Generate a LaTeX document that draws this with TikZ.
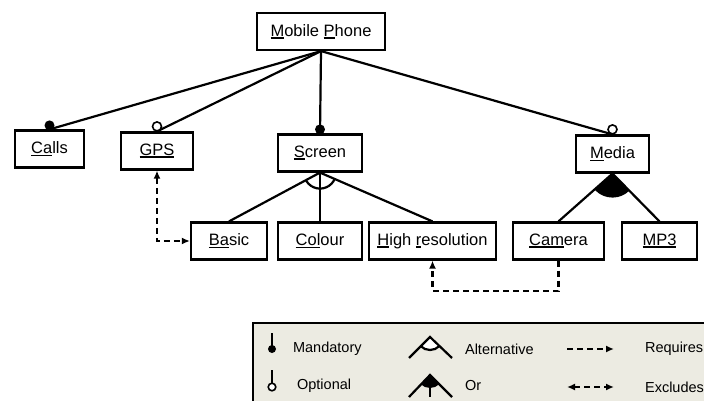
\documentclass[tikz,border=0pt]{standalone}
\usepackage{fontspec}
\setmainfont{Liberation Sans}
\usetikzlibrary{arrows.meta}
\definecolor{fline}{HTML}{000000}
\definecolor{legfill}{HTML}{ECEBE2}
\newcommand{\fkey}[1]{\setbox0=\hbox{#1}\rlap{\rule[-2.8pt]{\wd0}{1.7pt}}\box0}

\begin{document}
\begin{tikzpicture}[x=1pt,y=-1pt,
  line width=2.2pt,
  feat/.style={draw=fline,fill=white,minimum height=37pt,inner sep=3pt,
               font=\fontsize{16.5}{19}\selectfont},
  legtxt/.style={anchor=west,inner sep=0pt,font=\fontsize{14.5}{17}\selectfont},
  rel/.style={dash pattern=on 6pt off 4pt,-{Latex[length=8pt,width=7pt]}},
  relx/.style={dash pattern=on 6pt off 4pt,{Latex[length=8pt,width=7pt]}-{Latex[length=8pt,width=7pt]}}]
  \useasboundingbox (0,0) rectangle (704,401);
  \clip (0,0) rectangle (704,401);
  % features
  \node[feat,minimum width=128pt] (phone) at (321,31.5) {\fkey{M}obile \fkey{P}hone};
  \node[feat,minimum width=69pt] (calls) at (49.5,149) {\fkey{Ca}lls};
  \node[feat,minimum width=72pt] (gps) at (157,151) {\fkey{GPS}};
  \node[feat,minimum width=84pt] (screen) at (320,153) {\fkey{S}creen};
  \node[feat,minimum width=73pt] (media) at (612.5,154) {\fkey{M}edia};
  \node[feat,minimum width=76pt] (basic) at (229,241) {\fkey{Ba}sic};
  \node[feat,minimum width=84pt] (colour) at (320,241) {\fkey{Col}our};
  \node[feat,minimum width=127pt] (hires) at (432.5,241) {\fkey{H}igh \fkey{r}esolution};
  \node[feat,minimum width=91pt] (camera) at (558.5,241) {\fkey{Cam}era};
  \node[feat,minimum width=75pt] (mp3) at (659.5,241) {\fkey{MP3}};
  % tree edges
  \draw (phone.south) -- (calls.north);
  \draw (phone.south) -- (gps.north);
  \draw (phone.south) -- (screen.north);
  \draw (phone.south) -- (media.north);
  \fill (calls.north) ++(0,-4) circle[radius=5pt];
  \draw[line width=1.6pt,fill=white] (gps.north) ++(0,-5) circle[radius=4.5pt];
  \fill (screen.north) ++(0,-4) circle[radius=5pt];
  \draw[line width=1.6pt,fill=white] (media.north) ++(0,-5) circle[radius=4.5pt];
  % alternative group
  \draw (screen.south) -- (basic.north);
  \draw (screen.south) -- (colour.north);
  \draw (screen.south) -- (hires.north);
  \begin{scope}
    \clip (basic.north) -- (screen.south) -- (hires.north) -- cycle;
    \draw (screen.south) circle[radius=16pt];
  \end{scope}
  % or group
  \draw (media.south) -- (camera.north);
  \draw (media.south) -- (mp3.north);
  \begin{scope}
    \clip (camera.north) -- (media.south) -- (mp3.north) -- cycle;
    \fill (media.south) circle[radius=24pt];
  \end{scope}
  % cross-tree constraints
  \draw[relx] (gps.south) |- (basic.west);
  \draw[rel] (camera.south) -- ++(0,30) -| (hires.south);
  % legend
  \draw[fill=legfill] (253,323) rectangle (720,420);
  \draw (272,333) -- (272,347);
  \fill (272,349) circle[radius=4pt];
  \node[legtxt] (lmand) at (292,349) {Mandatory};
  \draw (272,370) -- (272,383);
  \draw[line width=1.6pt,fill=white] (272,387) circle[radius=3.8pt];
  \node[legtxt] (lopt) at (296,386) {Optional};
  \coordinate (altA) at (430,337);
  \coordinate (altL) at (409,358);
  \coordinate (altR) at (452,358);
  \begin{scope}
    \clip (altL) -- (altA) -- (altR) -- cycle;
    \draw[fill=white] (altA) circle[radius=13pt];
  \end{scope}
  \draw (altL) -- (altA) -- (altR);
  \node[legtxt] (lalt) at (464,349) {Alternative};
  \coordinate (orA) at (430,375);
  \coordinate (orL) at (409,397);
  \coordinate (orR) at (452,397);
  \begin{scope}
    \clip (orL) -- (orA) -- (orR) -- cycle;
    \fill (orA) circle[radius=13pt];
  \end{scope}
  \draw (orL) -- (orA) -- (orR);
  \draw (orA) -- (430,397);
  \node[legtxt] (lor) at (464,386) {Or};
  \coordinate (reqS) at (567,349);
  \coordinate (reqE) at (614,349);
  \draw[rel] (reqS) -- (reqE);
  \node[legtxt] (lreq) at (644,349) {Requires};
  \coordinate (excS) at (567,387);
  \coordinate (excE) at (614,387);
  \draw[relx] (excS) -- (excE);
  \node[legtxt] (lexc) at (644,387) {Excludes};
\end{tikzpicture}
\end{document}
